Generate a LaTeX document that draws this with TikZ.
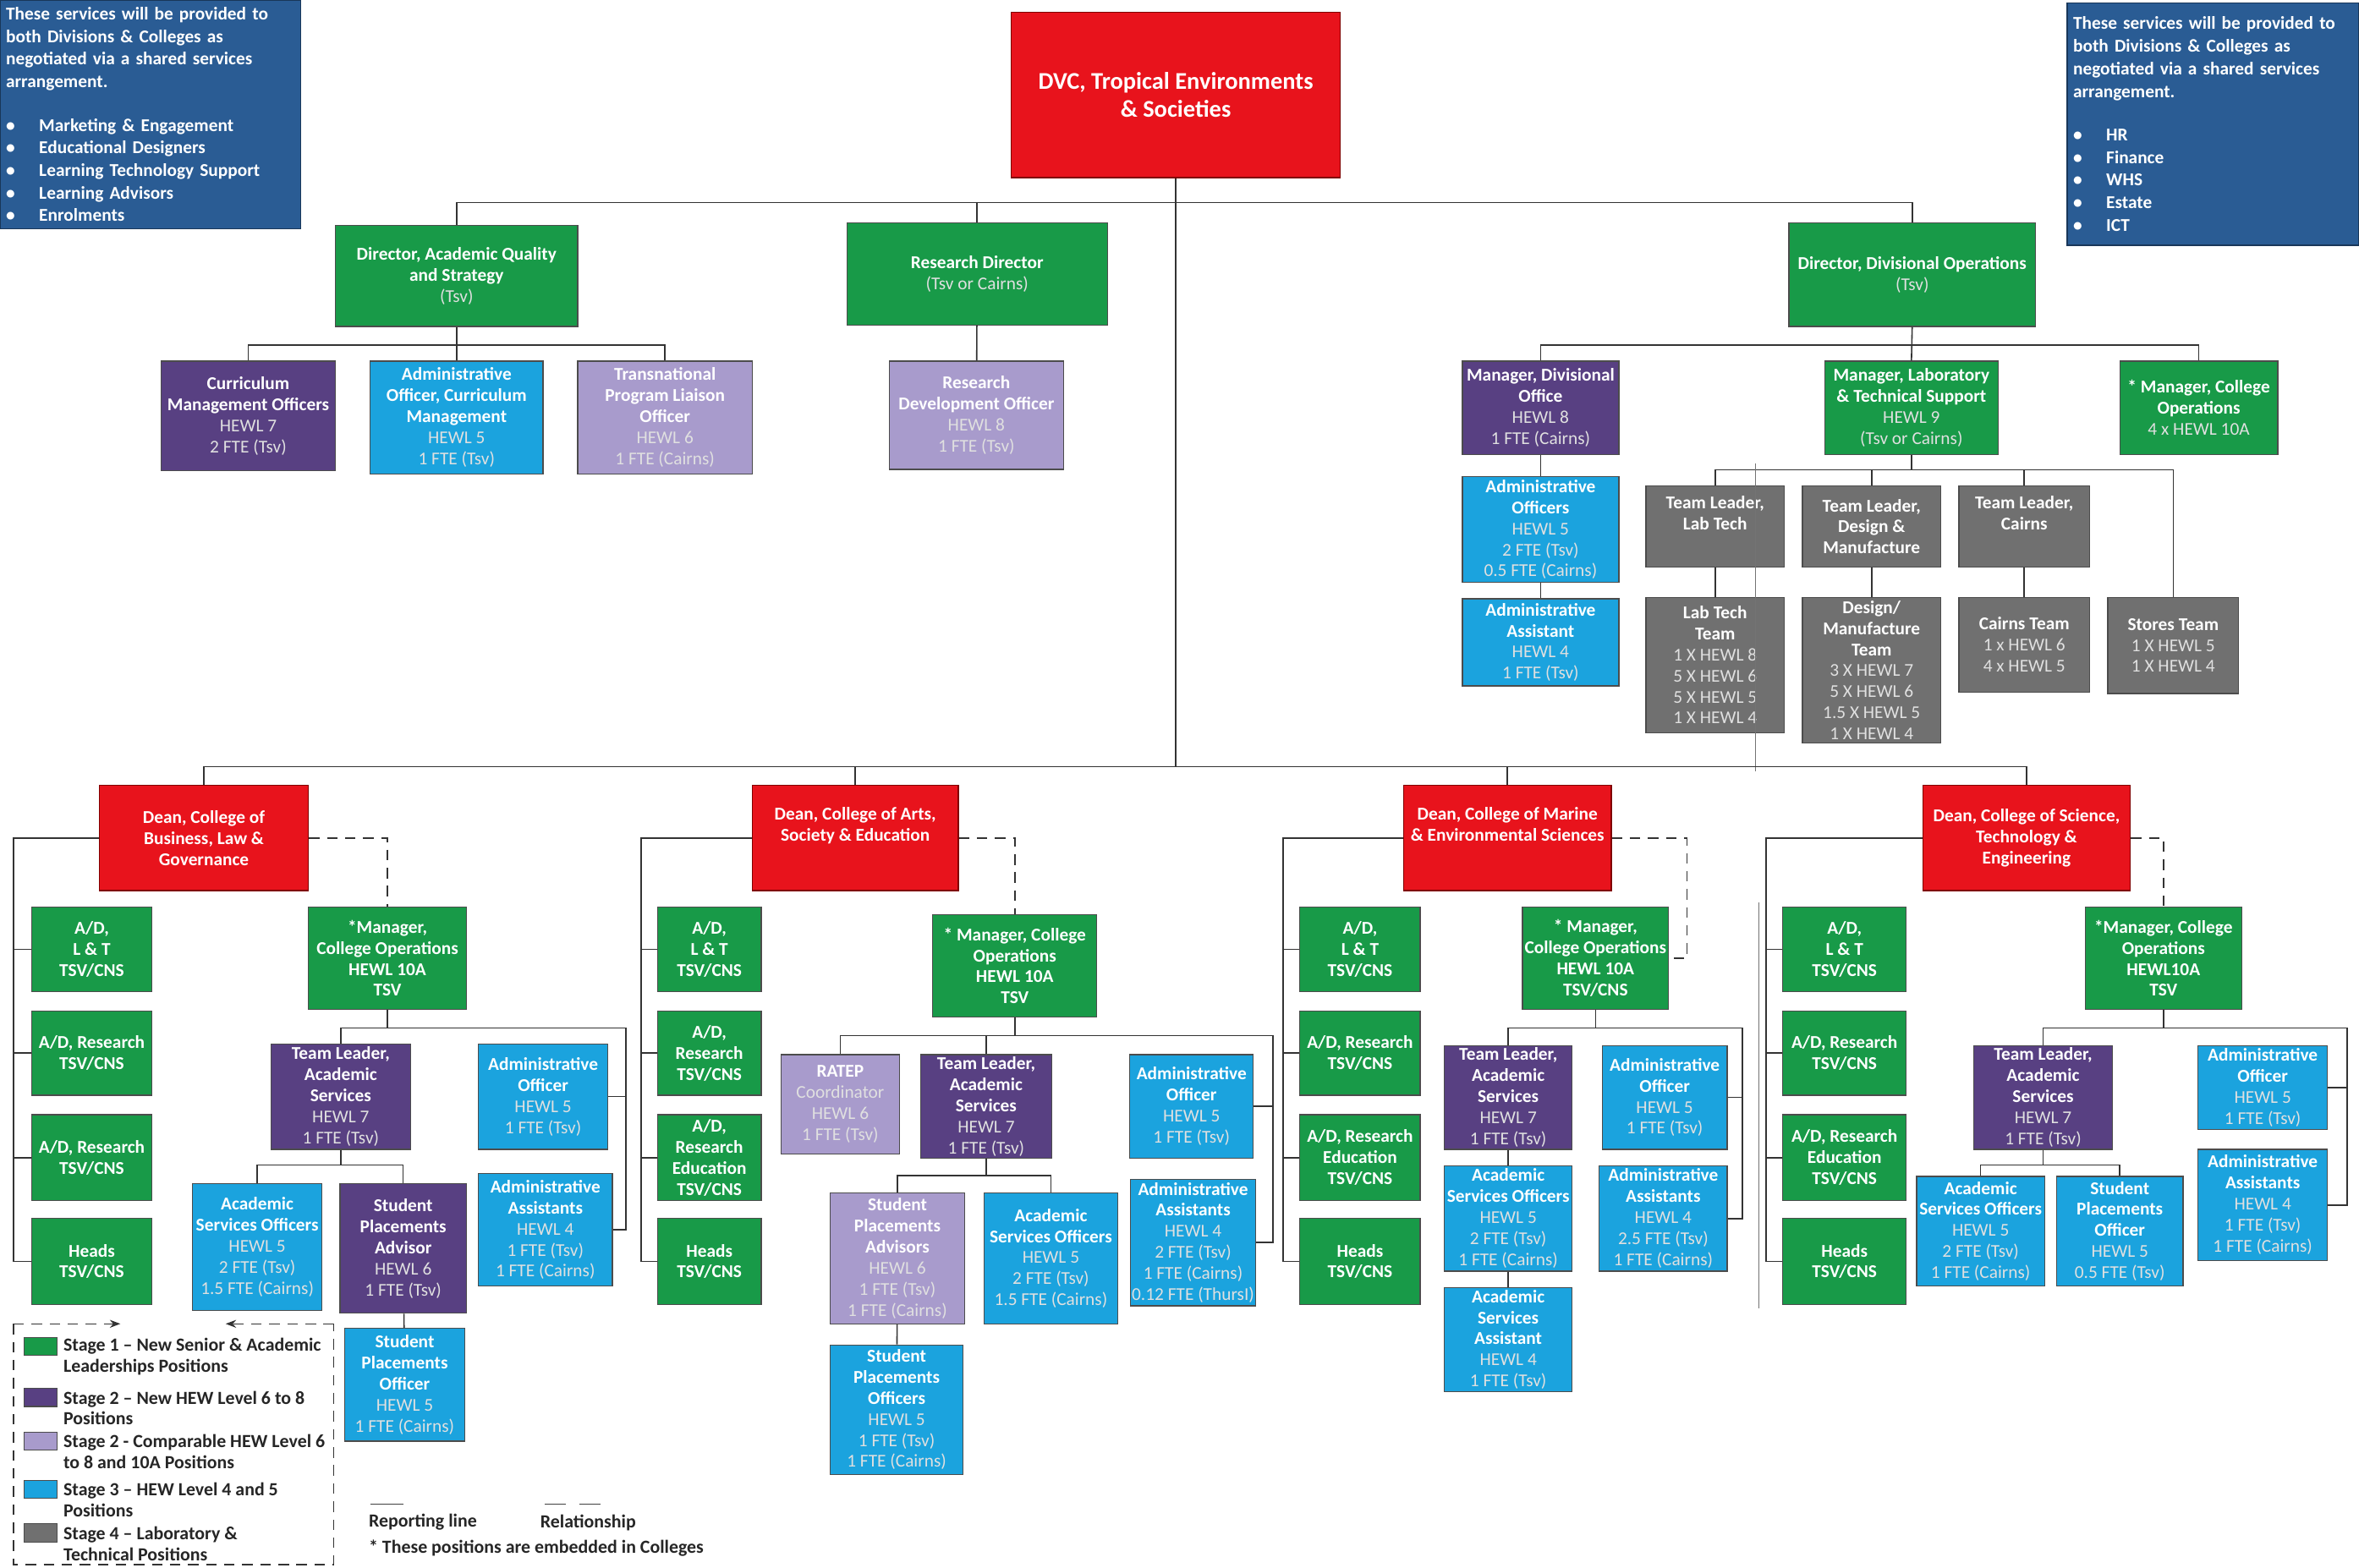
\documentclass[tikz,border=0pt]{standalone}
\usepackage{fontspec}
\setmainfont{Carlito}
\usepackage{tikz}
\usetikzlibrary{calc,arrows.meta}
\definecolor{stgreen}{RGB}{24,154,72}
\definecolor{deanred}{RGB}{232,19,28}
\definecolor{stpurple}{RGB}{88,64,130}
\definecolor{stlilac}{RGB}{168,155,204}
\definecolor{stblue}{RGB}{27,163,222}
\definecolor{stgrey}{RGB}{112,112,112}
\definecolor{navy}{RGB}{42,92,148}
\newcommand{\lvl}[1]{{\mdseries\color{white!88!black}#1}}

\begin{document}
\begin{tikzpicture}[
  x=1pt, y=-1pt,
  box/.style={draw=black!70, line width=0.7pt, text=white, align=center, inner xsep=1pt, inner ysep=0pt,
    font=\fontsize{12}{14}\selectfont\bfseries},
  sz/.style 2 args={minimum width=#1pt, minimum height=#2pt},
  stage1/.style={box, fill=stgreen},
  stage2/.style={box, fill=stpurple},
  stage2b/.style={box, fill=stlilac},
  stage3/.style={box, fill=stblue},
  stage4/.style={box, fill=stgrey},
  deanbox/.style={box, fill=deanred, draw=red!50!black},
  shared/.style={box, fill=navy, draw=navy!60!black, align=left, inner xsep=4pt, font=\fontsize{12}{15}\selectfont\bfseries},
  link/.style={draw=black!80, line width=0.9pt},
  rel/.style={link, dash pattern=on 7pt off 5pt},
  legtext/.style={anchor=west, align=left, inner sep=0pt, text=black!85, font=\fontsize{12.3}{14}\selectfont\bfseries}
]
\fill[white] (0,0) rectangle (1568,1042);
\useasboundingbox (0,0) rectangle (1568,1042);

\node[shared, sz={200}{152}, text width=192pt] (svcL) at (100,76) {These services will be provided to\\ both Divisions \& Colleges as\\ negotiated via a shared services\\ arrangement.\\[14pt]
  \makebox[22pt][l]{\textbullet}Marketing \& Engagement\\ \makebox[22pt][l]{\textbullet}Educational Designers\\ \makebox[22pt][l]{\textbullet}Learning Technology Support\\ \makebox[22pt][l]{\textbullet}Learning Advisors\\ \makebox[22pt][l]{\textbullet}Enrolments};
\node[shared, sz={194}{161}, text width=186pt] (svcR) at (1471,82.5) {These services will be provided to\\ both Divisions \& Colleges as\\ negotiated via a shared services\\ arrangement.\\[14pt]
  \makebox[22pt][l]{\textbullet}HR\\ \makebox[22pt][l]{\textbullet}Finance\\ \makebox[22pt][l]{\textbullet}WHS\\ \makebox[22pt][l]{\textbullet}Estate\\ \makebox[22pt][l]{\textbullet}ICT};

\node[deanbox, sz={219}{110}, font=\fontsize{16}{19}\selectfont\bfseries] (dvc) at (781.5,63) {DVC, Tropical Environments\\ \& Societies};
\node[stage1, sz={161}{67}] (aqs) at (303.5,183.5) {Director, Academic Quality\\ and Strategy\\ \lvl{(Tsv)}};
\node[stage1, sz={173}{68}] (resdir) at (649.5,182) {Research Director\\ \lvl{(Tsv or Cairns)}};
\node[stage1, sz={164}{69}] (divops) at (1271,182.5) {Director, Divisional Operations\\ \lvl{(Tsv)}};

\node[stage2, sz={116}{73}] (cmo) at (165,276.5) {Curriculum\\ Management Officers\\ \lvl{HEWL 7}\\ \lvl{2 FTE (Tsv)}};
\node[stage3, sz={115}{75}] (aocm) at (303.5,277.5) {Administrative\\ Officer, Curriculum\\ Management\\ \lvl{HEWL 5}\\ \lvl{1 FTE (Tsv)}};
\node[stage2b, sz={116}{75}] (tplo) at (442,277.5) {Transnational\\ Program Liaison\\ Officer\\ \lvl{HEWL 6}\\ \lvl{1 FTE (Cairns)}};
\node[stage2b, sz={116}{72}] (rdo) at (649,276) {Research\\ Development Officer\\ \lvl{HEWL 8}\\ \lvl{1 FTE (Tsv)}};

\node[stage2, sz={104}{62}] (mdo) at (1024,271) {Manager, Divisional\\ Office\\ \lvl{HEWL 8}\\ \lvl{1 FTE (Cairns)}};
\node[stage1, sz={115}{62}] (mlts) at (1270.5,271) {Manager, Laboratory\\ \& Technical Support\\ \lvl{HEWL 9}\\ \lvl{(Tsv or Cairns)}};
\node[stage1, sz={105}{62}] (mcoall) at (1461.5,271) {* Manager, College\\ Operations\\ \lvl{4 x HEWL 10A}};
\node[stage3, sz={104}{70}] (aos) at (1024,352) {Administrative\\ Officers\\ \lvl{HEWL 5}\\ \lvl{2 FTE (Tsv)}\\ \lvl{0.5 FTE (Cairns)}};
\node[stage3, sz={104}{58}] (aasst) at (1024,427) {Administrative\\ Assistant\\ \lvl{HEWL 4}\\ \lvl{1 FTE (Tsv)}};

\node[stage4, sz={92}{54}] (tllt) at (1140,350) {Team Leader,\\ Lab Tech\\ \strut};
\node[stage4, sz={92}{54}] (tldm) at (1244,350) {Team Leader,\\ Design \&\\ Manufacture};
\node[stage4, sz={87}{54}] (tlc) at (1345.5,350) {Team Leader,\\ Cairns\\ \strut};
\node[stage4, sz={92}{90}] (ltt) at (1140,442) {Lab Tech\\ Team\\ \lvl{1 X HEWL 8}\\ \lvl{5 X HEWL 6}\\ \lvl{5 X HEWL 5}\\ \lvl{1 X HEWL 4}};
\node[stage4, sz={92}{97}] (dmt) at (1244,445.5) {Design/\\ Manufacture\\ Team\\ \lvl{3 X HEWL 7}\\ \lvl{5 X HEWL 6}\\ \lvl{1.5 X HEWL 5}\\ \lvl{1 X HEWL 4}};
\node[stage4, sz={87}{63}] (ct) at (1345.5,428.5) {Cairns Team\\ \lvl{1 x HEWL 6}\\ \lvl{4 x HEWL 5}};
\node[stage4, sz={87}{64}] (st) at (1444.5,429) {Stores Team\\ \lvl{1 X HEWL 5}\\ \lvl{1 X HEWL 4}};

\node[deanbox, sz={139}{70}] (dean1) at (135.5,557) {Dean, College of\\ Business, Law \&\\ Governance};
\node[deanbox, sz={137}{70}] (dean2) at (568.5,557) {Dean, College of Arts,\\ Society \& Education\\ \strut};
\node[deanbox, sz={138}{70}] (dean3) at (1002,557) {Dean, College of Marine\\ \& Environmental Sciences\\ \strut};
\node[deanbox, sz={138}{70}] (dean4) at (1347,557) {Dean, College of Science,\\ Technology \&\\ Engineering};

\node[stage1, sz={80}{56}] (adlt1) at (61,631) {A/D,\\ L \& T\\ TSV/CNS};
\node[stage1, sz={80}{56}] (adr1) at (61,700) {A/D, Research\\ TSV/CNS};
\node[stage1, sz={80}{57}] (adre1) at (61,769.5) {A/D, Research\\ TSV/CNS};
\node[stage1, sz={80}{57}] (heads1) at (61,838.5) {Heads\\ TSV/CNS};
\node[stage1, sz={105}{68}] (mco1) at (257.5,637) {*Manager,\\ College Operations\\ HEWL 10A\\ TSV};
\node[stage2, sz={93}{70}] (tl1) at (226.5,729) {Team Leader,\\ Academic\\ Services\\ \lvl{HEWL 7}\\ \lvl{1 FTE (Tsv)}};
\node[stage3, sz={86}{70}] (ao1) at (361,729) {Administrative\\ Officer\\ \lvl{HEWL 5}\\ \lvl{1 FTE (Tsv)}};
\node[stage3, sz={89}{75}] (aa1) at (362.5,817.5) {Administrative\\ Assistants\\ \lvl{HEWL 4}\\ \lvl{1 FTE (Tsv)}\\ \lvl{1 FTE (Cairns)}};
\node[stage3, sz={86}{84}] (aso1) at (171,829) {Academic\\ Services Officers\\ \lvl{HEWL 5}\\ \lvl{2 FTE (Tsv)}\\ \lvl{1.5 FTE (Cairns)}};
\node[stage2, sz={84}{86}] (spa1) at (268,830) {Student\\ Placements\\ Advisor\\ \lvl{HEWL 6}\\ \lvl{1 FTE (Tsv)}};
\node[stage3, sz={80}{75}] (spo1) at (269,920.5) {Student\\ Placements\\ Officer\\ \lvl{HEWL 5}\\ \lvl{1 FTE (Cairns)}};

\node[stage1, sz={69}{56}] (adlt2) at (471.5,631) {A/D,\\ L \& T\\ TSV/CNS};
\node[stage1, sz={69}{56}] (adr2) at (471.5,700) {A/D,\\ Research\\ TSV/CNS};
\node[stage1, sz={69}{57}] (adre2) at (471.5,769.5) {A/D,\\ Research\\ Education\\ TSV/CNS};
\node[stage1, sz={69}{57}] (heads2) at (471.5,838.5) {Heads\\ TSV/CNS};
\node[stage1, sz={109}{68}] (mco2) at (674.5,642) {* Manager, College\\ Operations\\ HEWL 10A\\ TSV};
\node[stage2b, sz={79}{66}] (ratep2) at (558.5,734) {RATEP\\ \lvl{Coordinator}\\ \lvl{HEWL 6}\\ \lvl{1 FTE (Tsv)}};
\node[stage2, sz={87}{69}] (tl2) at (655.5,735.5) {Team Leader,\\ Academic\\ Services\\ \lvl{HEWL 7}\\ \lvl{1 FTE (Tsv)}};
\node[stage3, sz={82}{69}] (ao2) at (792,735.5) {Administrative\\ Officer\\ \lvl{HEWL 5}\\ \lvl{1 FTE (Tsv)}};
\node[stage3, sz={80}{84}] (aa2) at (793,826) {Administrative\\ Assistants\\ \lvl{HEWL 4}\\ \lvl{2 FTE (Tsv)}\\ \lvl{1 FTE (Cairns)}\\ \lvl{0.12 FTE (ThursI)}};
\node[stage2b, sz={89}{87}] (spa2) at (596.5,836.5) {Student\\ Placements\\ Advisors\\ \lvl{HEWL 6}\\ \lvl{1 FTE (Tsv)}\\ \lvl{1 FTE (Cairns)}};
\node[stage3, sz={89}{87}] (aso2) at (698.5,836.5) {Academic\\ Services Officers\\ \lvl{HEWL 5}\\ \lvl{2 FTE (Tsv)}\\ \lvl{1.5 FTE (Cairns)}};
\node[stage3, sz={88}{86}] (spo2) at (596,937) {Student\\ Placements\\ Officers\\ \lvl{HEWL 5}\\ \lvl{1 FTE (Tsv)}\\ \lvl{1 FTE (Cairns)}};

\node[stage1, sz={80}{56}] (adlt3) at (904,631) {A/D,\\ L \& T\\ TSV/CNS};
\node[stage1, sz={80}{56}] (adr3) at (904,700) {A/D, Research\\ TSV/CNS};
\node[stage1, sz={80}{57}] (adre3) at (904,769.5) {A/D, Research\\ Education\\ TSV/CNS};
\node[stage1, sz={80}{57}] (heads3) at (904,838.5) {Heads\\ TSV/CNS};
\node[stage1, sz={97}{68}] (mco3) at (1060.5,637) {* Manager,\\ College Operations\\ HEWL 10A\\ TSV/CNS};
\node[stage2, sz={85}{69}] (tl3) at (1002.5,729.5) {Team Leader,\\ Academic\\ Services\\ \lvl{HEWL 7}\\ \lvl{1 FTE (Tsv)}};
\node[stage3, sz={83}{69}] (ao3) at (1106.5,729.5) {Administrative\\ Officer\\ \lvl{HEWL 5}\\ \lvl{1 FTE (Tsv)}};
\node[stage3, sz={85}{70}] (aso3) at (1002.5,810) {Academic\\ Services Officers\\ \lvl{HEWL 5}\\ \lvl{2 FTE (Tsv)}\\ \lvl{1 FTE (Cairns)}};
\node[stage3, sz={85}{70}] (aa3) at (1105.5,810) {Administrative\\ Assistants\\ \lvl{HEWL 4}\\ \lvl{2.5 FTE (Tsv)}\\ \lvl{1 FTE (Cairns)}};
\node[stage3, sz={85}{69}] (asa3) at (1002.5,890.5) {Academic\\ Services\\ Assistant\\ \lvl{HEWL 4}\\ \lvl{1 FTE (Tsv)}};

\node[stage1, sz={82}{56}] (adlt4) at (1226,631) {A/D,\\ L \& T\\ TSV/CNS};
\node[stage1, sz={82}{56}] (adr4) at (1226,700) {A/D, Research\\ TSV/CNS};
\node[stage1, sz={82}{57}] (adre4) at (1226,769.5) {A/D, Research\\ Education\\ TSV/CNS};
\node[stage1, sz={82}{57}] (heads4) at (1226,838.5) {Heads\\ TSV/CNS};
\node[stage1, sz={104}{68}] (mco4) at (1438,637) {*Manager, College\\ Operations\\ HEWL10A\\ TSV};
\node[stage2, sz={92}{69}] (tl4) at (1358,729.5) {Team Leader,\\ Academic\\ Services\\ \lvl{HEWL 7}\\ \lvl{1 FTE (Tsv)}};
\node[stage3, sz={86}{56}] (ao4) at (1504,723) {Administrative\\ Officer\\ \lvl{HEWL 5}\\ \lvl{1 FTE (Tsv)}};
\node[stage3, sz={86}{74}] (aa4) at (1504,801) {Administrative\\ Assistants\\ \lvl{HEWL 4}\\ \lvl{1 FTE (Tsv)}\\ \lvl{1 FTE (Cairns)}};
\node[stage3, sz={85}{73}] (aso4) at (1316.5,818.5) {Academic\\ Services Officers\\ \lvl{HEWL 5}\\ \lvl{2 FTE (Tsv)}\\ \lvl{1 FTE (Cairns)}};
\node[stage3, sz={84}{73}] (spo4) at (1409,818.5) {Student\\ Placements\\ Officer\\ \lvl{HEWL 5}\\ \lvl{0.5 FTE (Tsv)}};

\coordinate (topbus) at ($(aqs.north)+(0,-15)$);
\coordinate (deanbus) at ($(dean1.north)+(0,-12)$);
\coordinate (aqsbus) at ($(aqs.south)+(0,12)$);
\coordinate (opsbus) at ($(divops.south)+(0,12)$);
\coordinate (labbus) at ($(mlts.south)+(0,10)$);

\draw[link] (dvc.south) -- (dvc.south |- deanbus);
\draw[link] (aqs.north) -- (topbus) -| (divops.north);
\draw[link] (resdir.north) -- (resdir.north |- topbus);
\draw[link] (cmo.north) |- (aqsbus) -| (tplo.north);
\draw[link] (aqs.south) -- (aocm.north);
\draw[link] (resdir) -- (rdo);
\draw[link] (mdo.north) |- (opsbus) -| (mcoall.north);
\draw[link] (divops.south) -- (mlts.north);
\draw[link] (mdo) -- (aos) -- (aasst);
\draw[link] (tllt.north) |- (labbus) -| (st.north);
\draw[link] (mlts.south) -- (labbus);
\foreach \n in {tldm,tlc} \draw[link] (\n.north) -- (\n.north |- labbus);
\draw[link] (tllt) -- (ltt);
\draw[link] (tldm) -- (dmt);
\draw[link] (tlc) -- (ct);
\draw[black!55, line width=0.5pt] (1167,308) -- (1167,513);
\draw[black!55, line width=0.5pt] (1169,600) -- (1169,870);

\draw[link] (dean1.north) -- (deanbus) -| (dean4.north);
\foreach \d in {dean2,dean3} \draw[link] (\d.north) -- (\d.north |- deanbus);

\foreach \c/\lx/\rx in {1/9/416, 2/426/846, 3/853/1158, 4/1174/1560} {
  \coordinate (lb\c) at (\lx,0);
  \coordinate (rb\c) at (\rx,0);
  \coordinate (bus\c) at ($(mco\c.south)+(0,12)$);
  \draw[link] (dean\c.west) -| (lb\c |- heads\c.west) -- (heads\c.west);
  \foreach \n in {adlt,adr,adre} \draw[link] (\n\c.west) -- (lb\c |- \n\c.west);
  \draw[link] (tl\c.north) |- (bus\c) -| (rb\c |- aa\c.east) -- (aa\c.east);
  \draw[link] (mco\c.south) -- (bus\c);
  \draw[link] (ao\c.east) -- (rb\c |- ao\c.east);
}
\draw[link] (ratep2.north) |- (bus2);

\draw[rel] (dean1.east) -| (mco1.north);
\draw[rel] (dean2.east) -| (mco2.north);
\draw[rel] (dean3.east) -| ($(mco3.east)+(12,0)$) -- (mco3.east);
\draw[rel] (dean4.east) -| (mco4.north);

\draw[link] (aso1.north) |- ($(tl1.south)+(0,10)$) -| (spa1.north);
\draw[link] (tl1.south) -- ++(0,10);
\draw[link] (spa1) -- (spo1);
\draw[link] (spa2.north) |- ($(tl2.south)+(0,11)$) -| (aso2.north);
\draw[link] (tl2.south) -- ++(0,11);
\draw[link] (spa2) -- (spo2);
\draw[link] (tl3) -- (aso3) -- (asa3);
\draw[link] (aso4.north) |- ($(tl4.south)+(0,10)$) -| (spo4.north);
\draw[link] (tl4.south) -- ++(0,10);

\draw[rel, line width=0.7pt] (9,880) -- (9,1040) -- (222,1040) -- (222,880);
\draw[rel, line width=0.7pt, -{Stealth[length=7pt]}] (9,880) -- (80,880);
\draw[rel, line width=0.7pt, -{Stealth[length=7pt]}] (222,880) -- (150,880);
\foreach \s/\y in {stage1/895, stage2/929, stage2b/958, stage3/990, stage4/1019}
  \node[\s, sz={22}{12}] (sw\s) at (27,\y) {};
\node[legtext] (leg1) at (42,902) {Stage 1 – New Senior \& Academic\\ Leaderships Positions};
\node[legtext] (leg2) at (42,936) {Stage 2 – New HEW Level 6 to 8\\ Positions};
\node[legtext] (leg3) at (42,965) {Stage 2 - Comparable HEW Level 6\\ to 8 and 10A Positions};
\node[legtext] (leg4) at (42,997) {Stage 3 – HEW Level 4 and 5\\ Positions};
\node[legtext] (leg5) at (42,1026) {Stage 4 – Laboratory \&\\ Technical Positions};

\draw[black!75, line width=0.8pt] (246,1000) -- (268,1000);
\draw[black!75, line width=0.8pt, dash pattern=on 14pt off 9pt] (362,1000) -- (400,1000);
\node[legtext] (replbl) at (245,1012) {Reporting line};
\node[legtext] (rellbl) at (359,1012) {Relationship};
\node[legtext] (embed) at (245,1029) {* These positions are embedded in Colleges};
\end{tikzpicture}
\end{document}
